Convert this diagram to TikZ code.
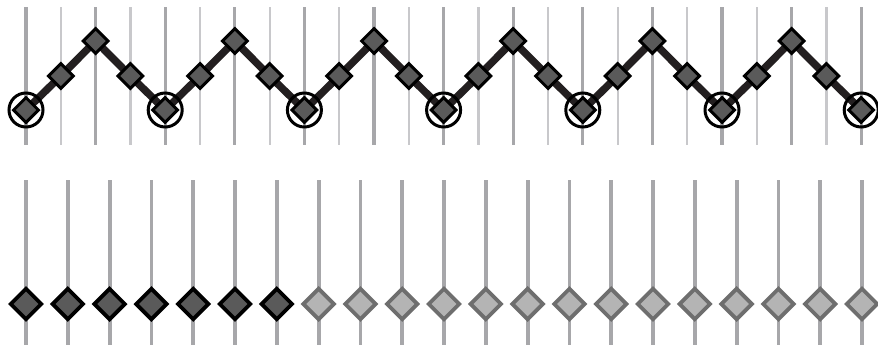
\documentclass[tikz,border=0pt]{standalone}
\usetikzlibrary{shapes.geometric,backgrounds}
\definecolor{gthick}{HTML}{A7A7AA}
\definecolor{gthin}{HTML}{C8C8CB}
\definecolor{dfill}{HTML}{5A5A5A}
\definecolor{lfill}{HTML}{B4B4B4}
\definecolor{lborder}{HTML}{6E6E6E}
\definecolor{zig}{HTML}{231F20}
\tikzset{
  topdia/.style={diamond,draw=black,fill=dfill,line width=3pt,inner sep=0pt,minimum size=26pt},
  botdark/.style={diamond,draw=black,fill=dfill,line width=3.8pt,inner sep=0pt,minimum size=32pt},
  botlight/.style={diamond,draw=lborder,fill=lfill,line width=3.8pt,inner sep=0pt,minimum size=32pt},
  ring/.style={circle,draw=black,line width=3pt,inner sep=0pt,minimum size=34pt},
  vthick/.style={draw=gthick,line width=3.2pt},
  vthin/.style={draw=gthin,line width=2.2pt},
  vbot/.style={draw=gthick,line width=3.8pt},
  zigline/.style={draw=zig,line width=7.5pt,line join=miter}
}
\begin{document}
\begin{tikzpicture}[x=1pt,y=-1pt]
\useasboundingbox (0,0) rectangle (878,348);
% top nodes
\foreach \i in {0,...,24}{
  \pgfmathsetmacro{\xx}{26+34.8*\i}
  \pgfmathtruncatemacro{\m}{mod(\i,4)}
  \ifcase\m
    \def\yy{110}\or\def\yy{76}\or\def\yy{41}\or\def\yy{76}\fi
  \coordinate (tb\i) at (\xx,7);
  \coordinate (te\i) at (\xx,145);
  \node[topdia] (t\i) at (\xx,\yy) {};
}
\foreach \i in {0,4,...,24}{
  \node[ring] (c\i) at (t\i) {};
}
% bottom nodes
\foreach \i in {0,...,20}{
  \pgfmathsetmacro{\xx}{26+41.8*\i}
  \coordinate (bb\i) at (\xx,180);
  \coordinate (be\i) at (\xx,345);
  \ifnum\i<7
    \node[botdark] (b\i) at (\xx,304) {};
  \else
    \node[botlight] (b\i) at (\xx,304) {};
  \fi
}
\begin{pgfonlayer}{background}
  \foreach \i in {0,2,...,24}{ \draw[vthick] (tb\i) -- (te\i); }
  \foreach \i in {1,3,...,23}{ \draw[vthin] (tb\i) -- (te\i); }
  \foreach \i in {0,...,20}{ \draw[vbot] (bb\i) -- (be\i); }
  \draw[zigline] (t0.center)
    \foreach \i in {1,...,24}{ -- (t\i.center) };
\end{pgfonlayer}
\end{tikzpicture}
\end{document}
